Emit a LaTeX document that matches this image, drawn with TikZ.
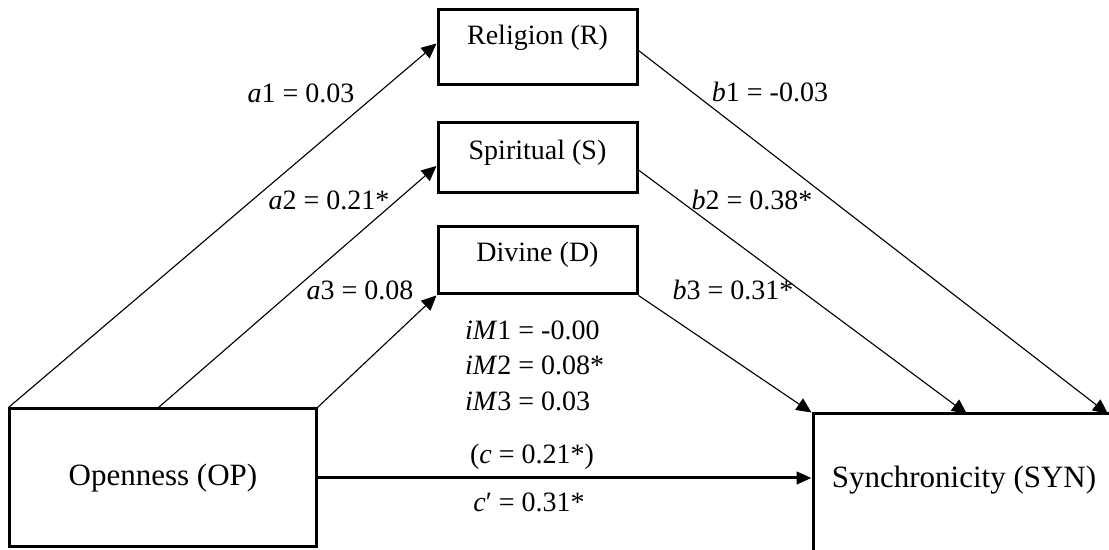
\documentclass[tikz,border=0pt]{standalone}
\usepackage{fontspec}
\setmainfont{Liberation Serif}
\usetikzlibrary{arrows.meta, calc, positioning}

\begin{document}
\begin{tikzpicture}[
    x=0.4pt, y=-0.4pt,
    outerbox/.style={
        draw=black, line width=1.2pt, minimum width=122.4pt, minimum height=55.2pt,
        inner sep=0pt, font=\fontsize{12.4}{14}\selectfont
    },
    medbox/.style={
        draw=black, line width=1.2pt, minimum width=79.6pt, inner sep=0pt
    },
    boxtext/.style={font=\fontsize{11.2}{13}\selectfont, inner sep=0pt},
    coef/.style={font=\fontsize{11.2}{13}\selectfont, inner sep=1pt},
    patharrow/.style={-{Triangle[length=6pt, width=5.5pt]}, line width=0.45pt, draw=black},
    directarrow/.style={-{Triangle[length=6pt, width=5pt]}, line width=1.2pt, draw=black},
]

\useasboundingbox (0,0) rectangle (1109,550);
\clip (0,0) rectangle (1109,550);

% Predictor and outcome
\node[outerbox, minimum width=122.4pt] (op) at (163,478) {Openness (OP)};
\node[outerbox, minimum width=120.8pt] (syn) at (964,483) {};
\node[font=\fontsize{12.4}{14}\selectfont] (syntext) at (964,480) {Synchronicity (SYN)};

% Mediators
\node[medbox, minimum height=30pt] (rel) at (537.5,47.5) {};
\node[boxtext] (reltext) at (537.5,38) {Religion (R)};
\node[medbox, minimum height=28pt] (spi) at (537.5,158) {};
\node[boxtext] (spitext) at (537.5,153) {Spiritual (S)};
\node[medbox, minimum height=26.8pt] (div) at (537.5,260.5) {};
\node[boxtext] (divtext) at (537.5,255) {Divine (D)};

% Arrow end points on the outcome box
\coordinate (synA) at (1108,414);
\coordinate (synB) at (967,414);

% a paths
\draw[patharrow] (op.north west) -- ($(rel.west)+(0,-4)$);
\draw[patharrow] ($(op.north west)+(150,0)$) -- ($(spi.west)+(0,8)$);
\draw[patharrow] (op.north east) -- (div.south west);

% b paths
\draw[patharrow] ($(rel.east)+(0,3)$) -- (synA);
\draw[patharrow] ($(spi.east)+(0,12)$) -- (synB);
\draw[patharrow] (div.south east) -- (syn.north west);

% direct path
\draw[directarrow] (op.east) -- (op.east -| syn.west);

% Coefficients
\node[coef] (a1) at (301,93) {\textit{a}1 = 0.03};
\node[coef] (a2) at (329,200) {\textit{a}2 = 0.21*};
\node[coef] (a3) at (360,290) {\textit{a}3 = 0.08};
\node[coef] (b1) at (770,92) {\textit{b}1 = -0.03};
\node[coef] (b2) at (752,200) {\textit{b}2 = 0.38*};
\node[coef] (b3) at (733,290) {\textit{b}3 = 0.31*};
\node[coef, anchor=west] (im1) at (462,330) {\textit{iM}1 = -0.00};
\node[coef, anchor=west] (im2) at (462,365) {\textit{iM}2 = 0.08*};
\node[coef, anchor=west] (im3) at (462,401) {\textit{iM}3 = 0.03};
\node[coef] (ctot) at (532,457) {(\textit{c} = 0.21*)};
\node[coef] (cdir) at (529,502) {\textit{c}′ = 0.31*};

\end{tikzpicture}
\end{document}
